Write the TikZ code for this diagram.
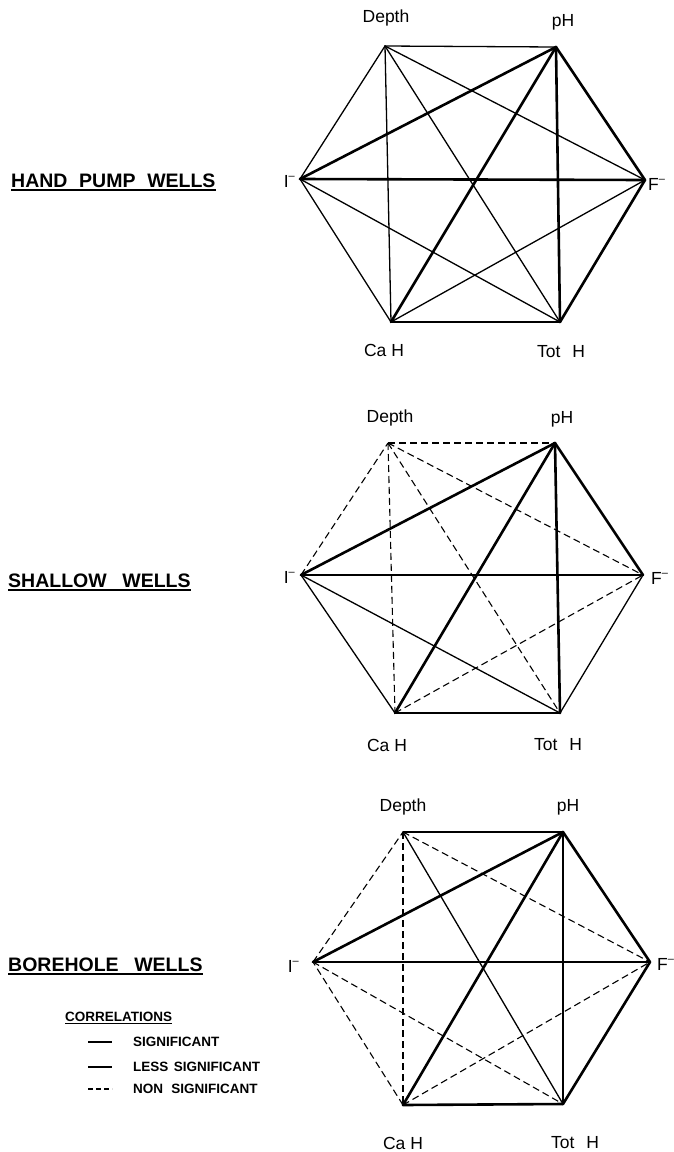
\documentclass[tikz,border=0pt]{standalone}
\usepackage{fontspec}
\setmainfont{Liberation Sans}
\newcommand{\ionm}[1]{#1\raisebox{0.45em}{\fontsize{11}{11}\selectfont\textendash}}
\begin{document}
\begin{tikzpicture}[x=1pt,y=-1pt,
  sig/.style={line width=2.6pt,line cap=round},
  less/.style={line width=1.3pt,line cap=round},
  non/.style={line width=1.1pt,dash pattern=on 7pt off 4pt},
  vlabel/.style={font=\fontsize{17.5}{20}\selectfont,inner sep=0pt},
  title/.style={font=\fontsize{19.5}{22}\selectfont\bfseries,anchor=base west,inner sep=0pt},
  legtext/.style={font=\fontsize{13.5}{16}\selectfont\bfseries,anchor=west,inner sep=0pt},
  uline/.style={line width=2pt}
]
\useasboundingbox (0,0) rectangle (673,1152);

% ---------- Hexagon 1: hand pump wells ----------
\coordinate (aD) at (385,46);
\coordinate (aP) at (556,47);
\coordinate (aF) at (645,180);
\coordinate (aT) at (560,322);
\coordinate (aC) at (391,322);
\coordinate (aI) at (300,179);
\node[vlabel] (aDl) at (386,18) {Depth};
\node[vlabel] (aPl) at (563,22) {pH};
\node[vlabel,anchor=west] (aFl) at (648,184) {\ionm{F}};
\node[vlabel] (aTl) at (561,352) {Tot\hspace{0.4em} H};
\node[vlabel] (aCl) at (384,350) {Ca H};
\node[vlabel,anchor=east] (aIl) at (295,181) {\ionm{I}};
\draw[less] (aD) -- (aP);
\draw[sig]  (aP) -- (aF);
\draw[sig]  (aF) -- (aT);
\draw[sig]  (aT) -- (aC);
\draw[less] (aC) -- (aI);
\draw[less] (aI) -- (aD);
\draw[less] (aD) -- (aF);
\draw[less] (aD) -- (aT);
\draw[less] (aD) -- (aC);
\draw[sig]  (aP) -- (aI);
\draw[sig]  (aP) -- (aC);
\draw[sig]  (aP) -- (aT);
\draw[sig]  (aI) -- (aF);
\draw[less] (aI) -- (aT);
\draw[less] (aC) -- (aF);

% ---------- Hexagon 2: shallow wells ----------
\coordinate (bD) at (388,443);
\coordinate (bP) at (555,443);
\coordinate (bF) at (643,575);
\coordinate (bT) at (560,713);
\coordinate (bC) at (395,713);
\coordinate (bI) at (301,575);
\node[vlabel] (bDl) at (390,418) {Depth};
\node[vlabel] (bPl) at (562,419) {pH};
\node[vlabel,anchor=west] (bFl) at (651,578) {\ionm{F}};
\node[vlabel] (bTl) at (558,745) {Tot\hspace{0.4em} H};
\node[vlabel] (bCl) at (387,745) {Ca H};
\node[vlabel,anchor=east] (bIl) at (295,577) {\ionm{I}};
\draw[non]  (bD) -- (bP);
\draw[sig]  (bP) -- (bF);
\draw[less] (bF) -- (bT);
\draw[less] (bT) -- (bC);
\draw[less] (bC) -- (bI);
\draw[non]  (bI) -- (bD);
\draw[non]  (bD) -- (bF);
\draw[non]  (bD) -- (bT);
\draw[non]  (bD) -- (bC);
\draw[sig]  (bP) -- (bI);
\draw[sig]  (bP) -- (bC);
\draw[sig]  (bP) -- (bT);
\draw[sig]  (bI) -- (bF);
\draw[less] (bI) -- (bT);
\draw[non]  (bC) -- (bF);

% ---------- Hexagon 3: borehole wells ----------
\coordinate (cD) at (403,832);
\coordinate (cP) at (563,832);
\coordinate (cF) at (650,962);
\coordinate (cT) at (563,1104);
\coordinate (cC) at (403,1105);
\coordinate (cI) at (313,962);
\node[vlabel] (cDl) at (403,807) {Depth};
\node[vlabel] (cPl) at (568,807) {pH};
\node[vlabel,anchor=west] (cFl) at (657,964) {\ionm{F}};
\node[vlabel] (cTl) at (575,1143) {Tot\hspace{0.4em} H};
\node[vlabel] (cCl) at (403,1143) {Ca H};
\node[vlabel,anchor=east] (cIl) at (299,966) {\ionm{I}};
\draw[less] (cD) -- (cP);
\draw[sig]  (cP) -- (cF);
\draw[sig]  (cF) -- (cT);
\draw[sig]  (cT) -- (cC);
\draw[non]  (cC) -- (cI);
\draw[non]  (cI) -- (cD);
\draw[non]  (cD) -- (cF);
\draw[less] (cD) -- (cT);
\draw[non]  (cD) -- (cC);
\draw[sig]  (cP) -- (cI);
\draw[sig]  (cP) -- (cC);
\draw[sig]  (cP) -- (cT);
\draw[sig]  (cI) -- (cF);
\draw[non]  (cI) -- (cT);
\draw[non]  (cC) -- (cF);

% ---------- Titles ----------
\node[title] (t1) at (11,187) {HAND\hspace{0.6em}PUMP\hspace{0.6em}WELLS};
\draw[uline] (t1.south west) ++(0,3) coordinate (t1a) -- (t1a -| t1.south east);
\node[title] (t2) at (8,587) {SHALLOW\hspace{0.8em}WELLS};
\draw[uline] (t2.south west) ++(0,3) coordinate (t2a) -- (t2a -| t2.south east);
\node[title] (t3) at (8,971) {BOREHOLE\hspace{0.8em}WELLS};
\draw[uline] (t3.south west) ++(0,3) coordinate (t3a) -- (t3a -| t3.south east);

% ---------- Legend ----------
\node[legtext,anchor=base west] (lg) at (65,1021) {CORRELATIONS};
\draw[line width=1.4pt] (lg.south west) ++(0,2) coordinate (lga) -- (lga -| lg.south east);
\coordinate (l1a) at (88,1042); \coordinate (l1b) at (112,1042);
\coordinate (l2a) at (88,1067); \coordinate (l2b) at (112,1067);
\coordinate (l3a) at (88,1089); \coordinate (l3b) at (112,1089);
\draw[line width=2.6pt] (l1a) -- (l1b);
\draw[line width=1.3pt] (l2a) -- (l2b);
\draw[line width=1.3pt,dash pattern=on 5pt off 3pt] (l3a) -- (l3b);
\node[legtext] (s1) at (133,1042) {SIGNIFICANT};
\node[legtext] (s2) at (133,1067) {LESS\hspace{0.4em}SIGNIFICANT};
\node[legtext] (s3) at (133,1089) {NON\hspace{0.6em}SIGNIFICANT};
\end{tikzpicture}
\end{document}
